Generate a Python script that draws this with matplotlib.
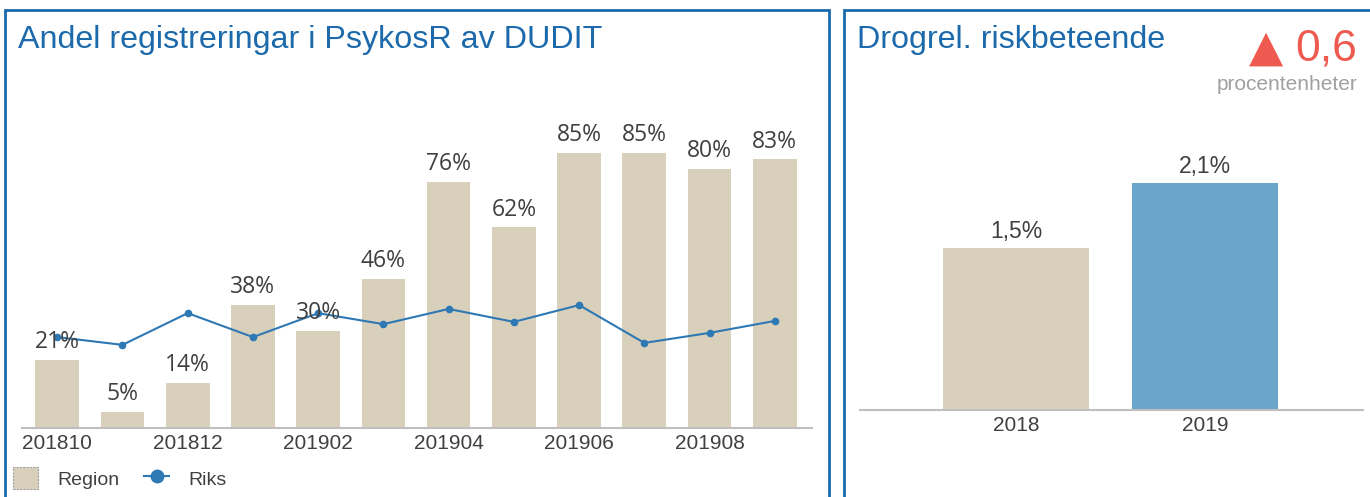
import matplotlib
matplotlib.use("Agg")
import matplotlib.pyplot as plt
from matplotlib.patches import Rectangle, Patch
import numpy as np

# ---- data ----
months = ["201810", "201811", "201812", "201901", "201902", "201903",
          "201904", "201905", "201906", "201907", "201908", "201909"]
region = [21, 5, 14, 38, 30, 46, 76, 62, 85, 85, 80, 83]
riks = [28.1, 25.7, 35.5, 28.1, 35.5, 32.1, 36.8, 32.8, 38.0, 26.3, 29.4, 33.1]

years = ["2018", "2019"]
risk = [1.5, 2.1]
change = "0,6"

W, H = 1370, 497
fig = plt.figure(figsize=(W / 100, H / 100), dpi=100)
fig.patch.set_facecolor("white")

BLUE = "#1c6aab"
BEIGE = "#d9d0bc"
BARBLUE = "#6aa6cc"
LINEBLUE = "#2e78b4"
TXT = "#404040"
AXGREY = "#bfbfbf"
FONT = "Liberation Sans"


def px_axes(x0, y0, x1, y1):
    return fig.add_axes([x0 / W, 1 - y1 / H, (x1 - x0) / W, (y1 - y0) / H])


# panel borders
for (x0, x1) in [(5, 829), (844, 1380)]:
    fig.patches.append(Rectangle((x0 / W, -0.05), (x1 - x0) / W, 1 - 10 / H + 0.05,
                                 transform=fig.transFigure, fill=False,
                                 edgecolor=BLUE, linewidth=2))

# titles
fig.text(18 / W, 1 - 48 / H, "Andel registreringar i PsykosR av DUDIT",
         fontsize=23.2, color=BLUE, family=FONT, ha="left", va="baseline")
fig.text(857 / W, 1 - 48 / H, "Drogrel. riskbeteende",
         fontsize=23.2, color=BLUE, family=FONT, ha="left", va="baseline")

# change indicator
fig.text(1357 / W, 1 - 60 / H, change, fontsize=32, color="#ee5a4f",
         family=FONT, ha="right", va="baseline")
fig.text(1283 / W, 1 - 61 / H, "\u25b2", fontsize=32, color="#ee5a4f",
         family="DejaVu Sans", ha="right", va="baseline")
fig.text(1357 / W, 1 - 90 / H, "procentenheter", fontsize=15, color="#a0a0a0",
         family=FONT, ha="right", va="baseline")

# ---- left chart ----
ax = px_axes(22, 104.5, 812, 428)
x = np.arange(len(months))
ax.bar(x, region, width=0.67, color=BEIGE, zorder=2)
line, = ax.plot(x, riks, color=LINEBLUE, linewidth=1.5, marker="o", markersize=4.5,
                zorder=3)
for xi, v in zip(x, region):
    ax.text(xi, v + 1.8, f"{v}%", ha="center", va="bottom", fontsize=16.5,
            family="Open Sans", color=TXT, zorder=4)
ax.set_xlim(-0.54, 11.57)
ax.set_ylim(0, 100)
ax.set_xticks(x[::2])
ax.set_xticklabels(months[::2], fontsize=15, family=FONT, color=TXT)
ax.tick_params(axis="x", length=0, pad=4)
ax.set_yticks([])
for s in ["top", "right", "left"]:
    ax.spines[s].set_visible(False)
ax.spines["bottom"].set_color(AXGREY)
ax.spines["bottom"].set_linewidth(1.5)
ax.set_facecolor("none")

reg_patch = Patch(facecolor=BEIGE, edgecolor="#a0a0a0", linestyle=(0, (2, 1)),
                  linewidth=0.8)
leg = fig.legend([reg_patch, line], ["Region", "Riks"], loc="center left",
                 bbox_to_anchor=(13 / W, 1 - 478 / H), ncol=2, frameon=False,
                 prop={"family": FONT, "size": 14}, handlelength=1.3,
                 handleheight=1.3, columnspacing=1.25, handletextpad=1.0,
                 borderpad=0, borderaxespad=0, markerscale=2.0)
for t in leg.get_texts():
    t.set_color(TXT)

# ---- right chart ----
ax2 = px_axes(860, 86, 1363, 410)
xr = np.arange(len(years))
ax2.bar(xr, risk, width=0.772, color=[BEIGE, BARBLUE], zorder=2)
for xi, v in zip(xr, risk):
    ax2.text(xi, v + 0.05, f"{v:.1f}%".replace(".", ","), ha="center", va="bottom",
             fontsize=16.5, family=FONT, color=TXT)
ax2.set_xlim(-0.825, 1.836)
ax2.set_ylim(0, 3)
ax2.set_xticks(xr)
ax2.set_xticklabels(years, fontsize=15, family=FONT, color=TXT)
ax2.tick_params(axis="x", length=0, pad=4)
ax2.set_yticks([])
for s in ["top", "right", "left"]:
    ax2.spines[s].set_visible(False)
ax2.spines["bottom"].set_color(AXGREY)
ax2.spines["bottom"].set_linewidth(1.5)
ax2.set_facecolor("none")

fig.savefig("out.png", dpi=100, facecolor="white")
